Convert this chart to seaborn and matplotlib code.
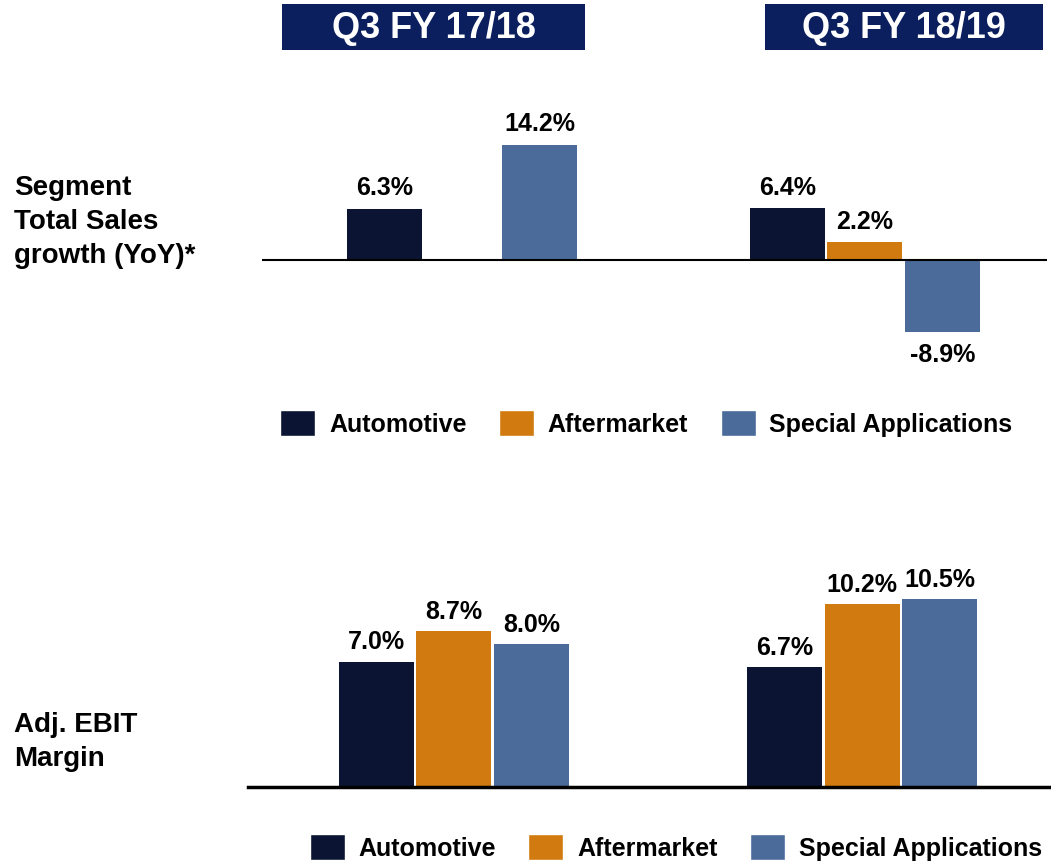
import numpy as np
import pandas as pd
import matplotlib.pyplot as plt
from matplotlib.patches import Rectangle, Patch
import seaborn as sns

# Chart data
quarters = ["Q3 FY 17/18", "Q3 FY 18/19"]
segments = ["Automotive", "Aftermarket", "Special Applications"]
sales_growth = {
    "Automotive": [6.3, 6.4],
    "Aftermarket": [np.nan, 2.2],
    "Special Applications": [14.2, -8.9],
}
ebit_margin = {
    "Automotive": [7.0, 6.7],
    "Aftermarket": [8.7, 10.2],
    "Special Applications": [8.0, 10.5],
}
colors = ["#0b1533", "#d07a10", "#4b6b9b"]
header_color = "#0b1f5e"


def to_long(values):
    """Turn a dict of segment -> values into a long table"""
    rows = []
    for seg in segments:
        for q, v in zip(quarters, values[seg]):
            rows.append({"quarter": q, "segment": seg, "value": v})
    return pd.DataFrame(rows).dropna()


sns.set_theme(style="white")
plt.rcParams["font.family"] = ["Liberation Sans", "DejaVu Sans"]
plt.rcParams["text.color"] = "black"

fig = plt.figure(figsize=(10.51, 8.62), dpi=100)

# Top panel: sales growth
ax1 = fig.add_axes([0.2493, 0.5824, 0.7469, 0.3016])
sns.barplot(data=to_long(sales_growth), x="quarter", y="value", hue="segment",
            hue_order=segments, order=quarters, palette=colors, saturation=1,
            width=0.577, gap=0.03, errorbar=None, legend=False, ax=ax1, linewidth=0)
ax1.set_xlim(-0.496, 1.452)
ax1.set_ylim(-12.2, 19.9)
ax1.axhline(0, color="black", lw=1.5)
for c in ax1.containers:
    ax1.bar_label(c, fmt="%.1f%%", padding=7, fontsize=18, fontweight="bold",
                  color="black")
ax1.set_axis_off()

# Bottom panel: EBIT margin
ax2 = fig.add_axes([0.236, 0.0858, 0.763, 0.2645])
sns.barplot(data=to_long(ebit_margin), x="quarter", y="value", hue="segment",
            hue_order=segments, order=quarters, palette=colors, saturation=1,
            width=0.57, gap=0.03, errorbar=None, legend=False, ax=ax2, linewidth=0)
ax2.set_xlim(-0.504, 1.46)
ax2.set_ylim(0, 12.74)
for c in ax2.containers:
    ax2.bar_label(c, fmt="%.1f%%", padding=6, fontsize=18, fontweight="bold",
                  color="black")
sns.despine(ax=ax2, left=True)
ax2.spines["bottom"].set_color("black")
ax2.spines["bottom"].set_linewidth(2.5)
ax2.set_xticks([])
ax2.set_yticks([])
ax2.set_xlabel("")
ax2.set_ylabel("")

# Legends
handles = [Patch(facecolor=col, label=seg) for col, seg in zip(colors, segments)]
legend_kw = dict(loc="center", ncol=3, frameon=False, handlelength=1.4,
                 handleheight=1.2, handletextpad=0.55, columnspacing=1.3,
                 prop={"size": 18, "weight": "bold"})
fig.legend(handles=handles, bbox_to_anchor=(0.615, 0.508), **legend_kw)
fig.legend(handles=handles, bbox_to_anchor=(0.643, 0.016), **legend_kw)

# Quarter headers
for x0, w, label in [(0.2683, 0.2883, quarters[0]), (0.7279, 0.2645, quarters[1])]:
    fig.patches.append(Rectangle((x0, 0.9408), w, 0.0534, transform=fig.transFigure,
                                 facecolor=header_color, edgecolor="none"))
    fig.text(x0 + w / 2, 0.9675, label, color="white", fontsize=26,
             fontweight="bold", ha="center", va="center")

# Row labels
fig.text(0.0133, 0.7425, "Segment\nTotal Sales\ngrowth (YoY)*", fontsize=20,
         fontweight="bold", va="center", ha="left", linespacing=1.4)
fig.text(0.0133, 0.139, "Adj. EBIT\nMargin", fontsize=20,
         fontweight="bold", va="center", ha="left", linespacing=1.4)

fig.savefig("out.png", dpi=100)
